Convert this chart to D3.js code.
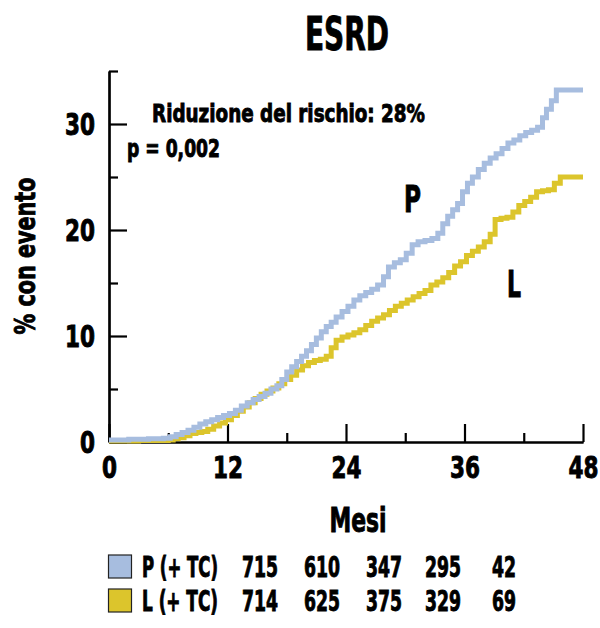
<!DOCTYPE html>
<html>
<head>
<meta charset="utf-8">
<script src="https://cdn.jsdelivr.net/npm/d3@7"></script>
<style>
  body { margin: 0; background: #fff; }
  text { font-family: "Liberation Sans Narrow", "DejaVu Sans Condensed", sans-serif; font-weight: bold; fill: #000; stroke: #000; stroke-width: 0.9px; }
</style>
</head>
<body>
<div id="chart"></div>
<script>
// mesi / % con evento
var serieP = [[0,0.2],[2,0.25],[4,0.3],[5.5,0.35],[6.2,0.5],[6.8,0.7],[7.4,0.9],[8,1.1],[8.6,1.4],[9.2,1.7],[9.8,1.9],
  [10.4,2.1],[11,2.3],[11.6,2.5],[12.2,2.7],[12.8,3.0],[13.4,3.4],[14,3.7],[14.6,4.0],[15.2,4.3],[15.8,4.6],[16.4,5.0],
  [17,5.3],[17.5,5.9],[18,6.6],[18.5,7.1],[19,7.6],[19.5,8.1],[20,8.6],[20.5,9.2],[21,9.8],[21.5,10.4],[22,10.9],
  [22.5,11.3],[23,11.8],[23.6,12.3],[24.2,12.8],[24.8,13.4],[25.4,13.8],[26,14.1],[26.6,14.4],[27.2,14.8],[27.8,15.6],
  [28.3,16.5],[28.9,16.9],[29.5,17.2],[30.1,17.8],[30.7,18.6],[31.3,18.9],[32,19.0],[32.7,19.2],[33.3,19.7],[33.8,20.6],
  [34.3,21.3],[34.8,21.9],[35.3,22.5],[35.8,23.6],[36.3,24.4],[36.8,25.0],[37.4,25.7],[38,26.3],[38.6,26.8],[39.2,27.2],
  [39.8,27.7],[40.4,28.2],[41,28.5],[41.6,28.9],[42.2,29.2],[42.8,29.4],[43.4,29.7],[43.9,30.6],[44.3,31.4],[44.8,32.2],
  [45.3,33.2],[48,33.2]];
var serieL = [[0,0.1],[3,0.15],[6,0.2],[6.5,0.3],[7,0.4],[7.6,0.6],[8.2,0.8],[8.8,0.9],[9.4,1.0],[10,1.2],[10.6,1.5],
  [11.2,1.8],[11.8,2.1],[12.4,2.5],[13,2.9],[13.6,3.3],[14.2,3.7],[14.8,4.1],[15.4,4.5],[16,4.8],[16.6,5.1],[17.2,5.5],
  [17.8,5.9],[18.4,6.3],[19,6.8],[19.6,7.2],[20.2,7.5],[20.8,7.7],[21.4,7.8],[22,8.1],[22.5,8.9],[23,9.6],[23.6,9.9],
  [24.2,10.1],[24.8,10.3],[25.4,10.6],[26,11.0],[26.6,11.4],[27.2,11.7],[27.8,12.0],[28.4,12.4],[29,12.8],[29.6,13.1],
  [30.2,13.4],[30.8,13.7],[31.4,14.0],[32,14.3],[32.6,14.8],[33.2,15.1],[33.8,15.5],[34.4,16.0],[35,16.6],[35.6,17.0],
  [36.2,17.6],[36.8,18.0],[37.4,18.4],[38,18.9],[38.6,19.6],[39.1,21.0],[39.7,21.1],[40.3,21.2],[40.9,21.7],[41.5,22.3],
  [42.1,22.7],[42.7,23.1],[43.3,23.6],[43.9,23.7],[44.5,23.8],[45.1,24.4],[45.7,25.0],[48,25.0]];

var xTicksMaggiori = [0, 12, 24, 36, 48];
var xTicksMinori = [6, 18, 30, 42];
var yTicksMaggiori = [0, 10, 20, 30];
var yTicksMinori = [5, 15, 25, 35];

var gruppi = ["P (+ TC)", "L (+ TC)"];
var aRischioP = [715, 610, 347, 295, 42];
var aRischioL = [714, 625, 375, 329, 69];

var coloreP = "#a7bddf";
var coloreL = "#dcc52c";

var W = 600, H = 628;
var svg = d3.select("#chart").append("svg")
  .attr("width", W)
  .attr("height", H);

var x = d3.scaleLinear().domain([0, 48]).range([109, 583]);
var y = d3.scaleLinear().domain([0, 35]).range([442, 71]);

// titolo
svg.append("text")
  .attr("x", 347).attr("y", 50)
  .attr("text-anchor", "middle")
  .attr("font-size", 46)
  .attr("textLength", 84).attr("lengthAdjust", "spacingAndGlyphs")
  .text("ESRD");

// asse y
var assey = svg.append("g").attr("transform", "translate(" + x(0) + ",0)");
assey.call(d3.axisLeft(y).tickValues(yTicksMaggiori).tickSizeInner(-18).tickSizeOuter(0).tickPadding(14));
var assey2 = svg.append("g").attr("transform", "translate(" + x(0) + ",0)");
assey2.call(d3.axisLeft(y).tickValues(yTicksMinori).tickSizeInner(-9).tickSizeOuter(0).tickFormat(""));

// asse x
var assex = svg.append("g").attr("transform", "translate(0," + y(0) + ")");
assex.call(d3.axisBottom(x).tickValues(xTicksMaggiori).tickSizeInner(-18).tickSizeOuter(0).tickPadding(14));
var assex2 = svg.append("g").attr("transform", "translate(0," + y(0) + ")");
assex2.call(d3.axisBottom(x).tickValues(xTicksMinori).tickSizeInner(-9).tickSizeOuter(0).tickFormat(""));

svg.selectAll(".domain, .tick line").attr("stroke", "#000").attr("stroke-width", 2.2);
svg.selectAll(".tick text")
  .attr("font-size", 31)
  .attr("font-family", "'Liberation Sans Narrow', 'DejaVu Sans Condensed', sans-serif")
  .attr("font-weight", "bold")
  .attr("fill", "#000")
  .attr("textLength", function(d) { return String(d).length * 15; })
  .attr("lengthAdjust", "spacingAndGlyphs");
assex.selectAll(".tick text").attr("dy", "0.71em");
assey.selectAll(".tick text").attr("dy", "0.35em");

// curve
var linea = d3.line()
  .curve(d3.curveStepAfter)
  .x(function(d) { return x(d[0]); })
  .y(function(d) { return y(d[1]); });

svg.append("path")
  .datum(serieL)
  .attr("d", linea)
  .attr("fill", "none")
  .attr("stroke", coloreL)
  .attr("stroke-width", 5);

svg.append("path")
  .datum(serieP)
  .attr("d", linea)
  .attr("fill", "none")
  .attr("stroke", coloreP)
  .attr("stroke-width", 5);

// etichette
svg.append("text")
  .attr("x", 152).attr("y", 122)
  .attr("font-size", 25)
  .attr("textLength", 273).attr("lengthAdjust", "spacingAndGlyphs")
  .text("Riduzione del rischio: 28%");
svg.append("text")
  .attr("x", 127).attr("y", 157)
  .attr("font-size", 25)
  .attr("textLength", 93).attr("lengthAdjust", "spacingAndGlyphs")
  .text("p = 0,002");
svg.append("text")
  .attr("x", 404).attr("y", 212)
  .attr("font-size", 37)
  .attr("textLength", 17).attr("lengthAdjust", "spacingAndGlyphs")
  .text("P");
svg.append("text")
  .attr("x", 507).attr("y", 297)
  .attr("font-size", 37)
  .attr("textLength", 14).attr("lengthAdjust", "spacingAndGlyphs")
  .text("L");

svg.append("text")
  .attr("transform", "translate(35,256) rotate(-90)")
  .attr("text-anchor", "middle")
  .attr("font-size", 29)
  .attr("textLength", 157).attr("lengthAdjust", "spacingAndGlyphs")
  .text("% con evento");

svg.append("text")
  .attr("x", 358).attr("y", 532)
  .attr("text-anchor", "middle")
  .attr("font-size", 34)
  .attr("textLength", 57).attr("lengthAdjust", "spacingAndGlyphs")
  .text("Mesi");

// tabella pazienti a rischio
var colonne = [260, 322, 384, 443, 504];
var righe = [
  { nome: gruppi[0], colore: coloreP, valori: aRischioP, y: 577 },
  { nome: gruppi[1], colore: coloreL, valori: aRischioL, y: 611 }
];

righe.forEach(function(r) {
  svg.append("rect")
    .attr("x", 108.5).attr("y", r.y - 22)
    .attr("width", 23).attr("height", 23)
    .attr("fill", r.colore)
    .attr("stroke", "#222")
    .attr("stroke-width", 1.2);
  svg.append("text")
    .attr("x", 142).attr("y", r.y)
    .attr("font-size", 28)
    .attr("textLength", 76).attr("lengthAdjust", "spacingAndGlyphs")
    .text(r.nome);
  svg.selectAll(null)
    .data(r.valori)
    .enter().append("text")
    .attr("x", function(d, i) { return colonne[i] - String(d).length * 6; })
    .attr("y", r.y)
    .attr("font-size", 28)
    .attr("textLength", function(d) { return String(d).length * 12; })
    .attr("lengthAdjust", "spacingAndGlyphs")
    .text(function(d) { return d; });
});
</script>
</body>
</html>
